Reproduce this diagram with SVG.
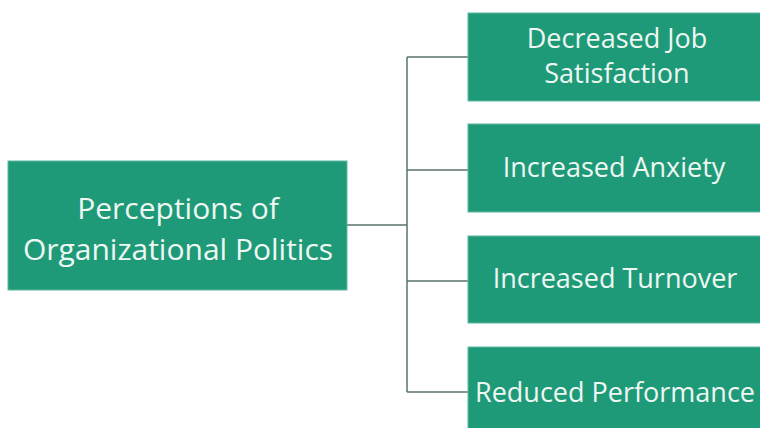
<svg xmlns="http://www.w3.org/2000/svg" width="760" height="428" viewBox="0 0 760 428">
<style>
.box{fill:#1f9a78;stroke:#5fb89f;stroke-width:1}
.t{font-family:"Open Sans","Noto Sans",sans-serif;fill:#eef7f2;text-anchor:middle}
.big{font-size:30px}
.sm{font-size:27px}
.c{fill:none;stroke:#5a726a;stroke-width:1.5}
</style>
<rect width="760" height="428" fill="#ffffff"/>
<g id="connectors">
<path class="c" d="M347 225 H407"/>
<path class="c" d="M407 57 V392"/>
<path class="c" d="M407 57 H468"/>
<path class="c" d="M407 170 H468"/>
<path class="c" d="M407 281 H468"/>
<path class="c" d="M407 392 H468"/>
</g>
<g id="root">
<rect class="box" x="8" y="161" width="339" height="129"/>
<text class="t big" x="178" y="219">Perceptions of</text>
<text class="t big" x="178" y="260">Organizational Politics</text>
</g>
<g id="n1">
<rect class="box" x="468" y="13" width="296" height="88"/>
<text class="t sm" x="617" y="48">Decreased Job</text>
<text class="t sm" x="617" y="83">Satisfaction</text>
</g>
<g id="n2">
<rect class="box" x="468" y="124" width="296" height="88"/>
<text class="t sm" x="614" y="177">Increased Anxiety</text>
</g>
<g id="n3">
<rect class="box" x="468" y="236" width="296" height="87"/>
<text class="t sm" x="615" y="288">Increased Turnover</text>
</g>
<g id="n4">
<rect class="box" x="468" y="347" width="296" height="88"/>
<text class="t sm" x="615" y="402">Reduced Performance</text>
</g>
</svg>
